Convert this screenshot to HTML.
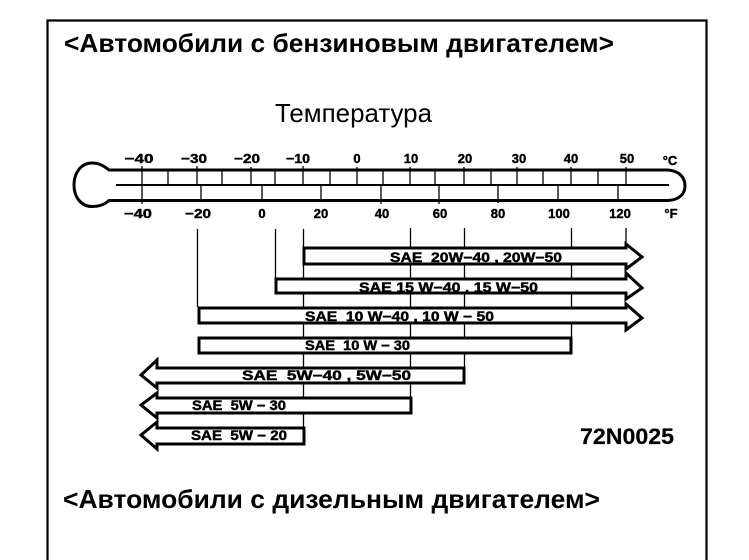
<!DOCTYPE html>
<html><head><meta charset="utf-8"><style>
html,body{margin:0;padding:0;background:#fff}
svg{display:block}
text{font-family:"Liberation Sans",sans-serif;fill:#000}
.b{font-weight:bold}
.t{font-weight:bold;font-size:13px;text-anchor:middle;stroke:#000;stroke-width:.4}
.s{font-weight:bold;font-size:13.500px;stroke:#000;stroke-width:.45}
</style></head><body>
<svg width="749" height="560" viewBox="0 0 749 560" xmlns="http://www.w3.org/2000/svg">
<rect width="749" height="560" fill="#fff"/>
<path d="M47.500 560V20.500H706.500V560" fill="none" stroke="#000" stroke-width="2.200"/>
<text class="b" x="64" y="52" font-size="26" textLength="550" lengthAdjust="spacingAndGlyphs">&lt;Автомобили с бензиновым двигателем&gt;</text>
<text x="275" y="122" font-size="26" textLength="157" lengthAdjust="spacingAndGlyphs">Температура</text>
<text class="b" x="580" y="444" font-size="22.500" textLength="94" lengthAdjust="spacingAndGlyphs" stroke="#000" stroke-width=".2">72N0025</text>
<text class="b" x="63" y="508" font-size="26" textLength="537" lengthAdjust="spacingAndGlyphs">&lt;Автомобили с дизельным двигателем&gt;</text>

<!-- thermometer -->
<path d="M109 170H668C679 171 685 177 685 186C685 194 679 200 668 200.500H109C104 205 99 206.500 92 206.500C81 206.500 74 197 74 185C74 173 81 163 92 163C99 163 104 166 109 170Z" fill="none" stroke="#000" stroke-width="3"/>
<path d="M116 185H669" stroke="#000" stroke-width="2"/>
<g stroke="#000" stroke-width="1.300" fill="none">
<path d="M142 166V204M168 170V185M197 166V185M222 170V185M251 167V185M275 170V185M303 166V185M330 170V185M357 167V185M383 171V185M410 167V185M435 171V185M464 167V185M491 171V185M517 167V185M543 171V185M571 167V185M598 171V185M626 167V185"/>
<path d="M201 185V200M262 185V200M321 185V200M381 185V204M439 185V204M498 185V203M558 185V200M618 185V200"/>
<path d="M197.500 229V307M275.500 229V278M303.500 229V428M410.500 228V397M464.500 228V368M571.500 228V338M626 228V245"/>
</g>
<text class="t" x="139" y="163" textLength="29" lengthAdjust="spacingAndGlyphs">−40</text>
<text class="t" x="194" y="163" textLength="26" lengthAdjust="spacingAndGlyphs">−30</text>
<text class="t" x="247" y="163" textLength="26" lengthAdjust="spacingAndGlyphs">−20</text>
<text class="t" x="298" y="163" textLength="24" lengthAdjust="spacingAndGlyphs">−10</text>
<text class="t" x="357" y="163">0</text>
<text class="t" x="411" y="163">10</text>
<text class="t" x="465" y="163">20</text>
<text class="t" x="519" y="163">30</text>
<text class="t" x="571" y="163">40</text>
<text class="t" x="627" y="163">50</text>
<text class="t" x="670" y="165" font-size="14">°C</text>
<text class="t" x="138" y="218" textLength="28" lengthAdjust="spacingAndGlyphs">−40</text>
<text class="t" x="198" y="218" textLength="26" lengthAdjust="spacingAndGlyphs">−20</text>
<text class="t" x="262" y="218">0</text>
<text class="t" x="321" y="218">20</text>
<text class="t" x="382" y="218">40</text>
<text class="t" x="440" y="218">60</text>
<text class="t" x="498" y="218">80</text>
<text class="t" x="559" y="218">100</text>
<text class="t" x="620" y="218">120</text>
<text class="t" x="671" y="218" font-size="14">°F</text>

<!-- bars -->
<g fill="#fff" stroke="#000" stroke-width="3" stroke-linejoin="miter">
<path d="M304 248H626V244L642 257L626 269V264H304Z"/>
<path d="M276 279H626V273L642 288L626 299V293H276Z"/>
<path d="M199 308H626V304L642 318L626 330V323H199Z"/>
<path d="M199 338H571V353H199Z"/>
<path d="M157 368V360L141 375L157 388V383H464V368Z"/>
<path d="M157 398V393L141 405L157 418V413H411V398Z"/>
<path d="M157 428V422L141 435L157 449V444H304V428Z"/>
</g>
<text class="s" x="390" y="262" textLength="172" lengthAdjust="spacingAndGlyphs" xml:space="preserve">SAE  20W−40 , 20W−50</text>
<text class="s" x="359" y="292" textLength="179" lengthAdjust="spacingAndGlyphs" xml:space="preserve">SAE 15 W−40 , 15 W−50</text>
<text class="s" x="305" y="321" textLength="189" lengthAdjust="spacingAndGlyphs" xml:space="preserve">SAE  10 W−40 , 10 W − 50</text>
<text class="s" x="305" y="350" textLength="105" lengthAdjust="spacingAndGlyphs" xml:space="preserve">SAE  10 W − 30</text>
<text class="s" x="242" y="380" textLength="169" lengthAdjust="spacingAndGlyphs" xml:space="preserve">SAE  5W−40 , 5W−50</text>
<text class="s" x="192" y="410" textLength="94" lengthAdjust="spacingAndGlyphs" xml:space="preserve">SAE  5W − 30</text>
<text class="s" x="191" y="440" textLength="96" lengthAdjust="spacingAndGlyphs" xml:space="preserve">SAE  5W − 20</text>
</svg>
</body></html>
